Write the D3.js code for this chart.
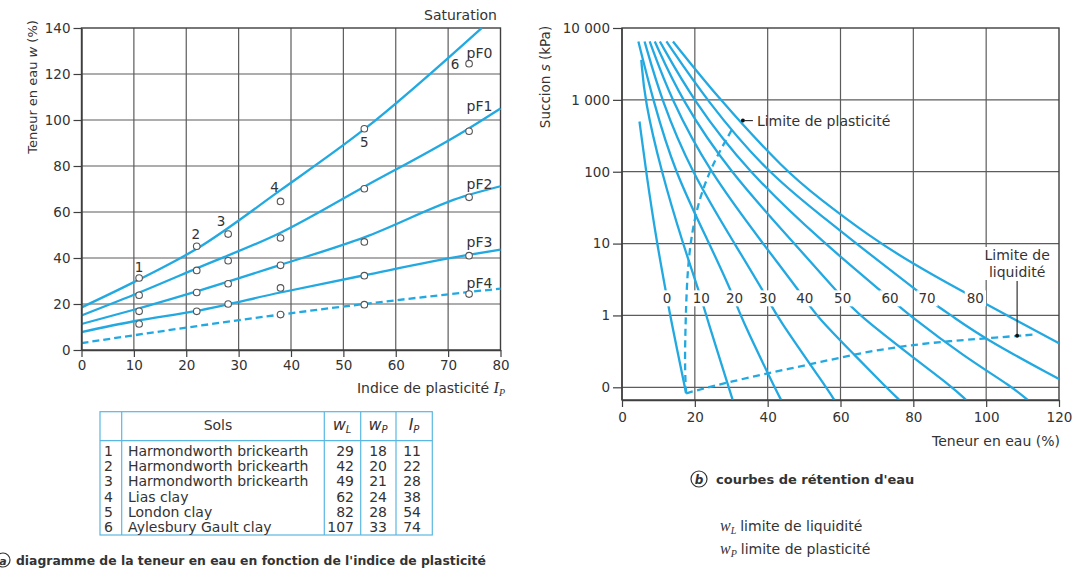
<!DOCTYPE html>
<html><head><meta charset="utf-8">
<script src="https://cdn.jsdelivr.net/npm/d3@7"></script>
<style>
body{margin:0;background:#fff;}
svg text{font-family:"DejaVu Sans",sans-serif;fill:#333;}
</style></head><body>
<svg id="c" width="1074" height="569"></svg>
<script>
// ---------- (a) water content against plasticity index ----------
const pfNames = ["pF0", "pF1", "pF2", "pF3", "pF4"];
const pF0 = [[0,18.5],[10,29.5],[22,44],[38,69.5],[54,96],[76.4,140]];
const pF1 = [[0,15],[10,24],[22,35.5],[38,51],[54,71],[73,95],[80,105]];
const pF2 = [[0,11.3],[10,17.5],[22,25.5],[38,37],[54,49],[73,66.8],[80,71.2]];
const pF3 = [[0,7.8],[10,12.5],[22,17],[38,25],[54,32.5],[73,41],[80,43.6]];
const pF4 = [[0,3],[38,15.4],[54,20],[80,26.7]];
const pfLabelAt = [[76,127],[76,104],[76,70],[76,45],[76,27]]; // Ip / w where each pF name sits

const soilNo = ["1", "2", "3", "4", "5", "6"];
const soilNames = ["Harmondworth brickearth", "Harmondworth brickearth", "Harmondworth brickearth",
                   "Lias clay", "London clay", "Aylesbury Gault clay"];
const soilWL = [29, 42, 49, 62, 82, 107];
const soilWP = [18, 20, 21, 24, 28, 33];
const soilIp = [11, 22, 28, 38, 54, 74];
// measured water contents for each soil (pF0 .. pF4)
const soilW = [
  [31.3, 23.8, 16.8, 11.3],
  [45.1, 34.6, 25, 16.8],
  [50.4, 38.8, 28.8, 20],
  [64.6, 48.7, 36.8, 27, 15.4],
  [96.2, 70.1, 47, 32.3, 19.7],
  [124.5, 95.1, 66.4, 41, 24.3]
];
const ipTicks = [0, 10, 20, 30, 40, 50, 60, 70, 80];
const wTicksA = [0, 20, 40, 60, 80, 100, 120, 140];

// ---------- (b) water retention curves ----------
const curveIp = [0, 10, 20, 30, 40, 50, 60, 70, 80];
const ret0  = [[4.8,500],[6.6,100],[9.6,10],[12.4,1.73],[13.2,1],[17.6,0.0826]];
const ret10 = [[5.3,3600],[6.2,1000],[10.8,100],[16.7,10],[21.8,1.73],[23.1,1],[29.3,0.1],[30.4,0.0666]];
const ret20 = [[4.5,6500],[8.5,1000],[14.4,100],[24,10],[30.9,1.73],[32.4,1],[41.9,0.1],[43.7,0.0666]];
const ret30 = [[6.2,6500],[10.8,1000],[19,100],[30.9,10],[40,1.73],[42.3,1],[56.1,0.1],[58.3,0.0666]];
const ret40 = [[7.6,6500],[13.5,1000],[24,100],[38.7,10],[50.2,1.73],[53.2,1],[64.3,0.267],[72.5,0.1],[76.2,0.0666]];
const ret50 = [[9,6500],[16.3,1000],[29.5,100],[47.4,10],[60.6,1.73],[65.2,1],[79.6,0.267],[90.8,0.1],[94.5,0.0666]];
const ret60 = [[10.4,6500],[19.4,1000],[34.5,100],[55.5,10],[73.6,1.73],[78.9,1],[94,0.267],[107.3,0.1],[111.4,0.0666]];
const ret70 = [[12.2,6500],[23.1,1000],[39.6,100],[55.7,22.4],[64.3,10],[80.8,2.26],[86.3,1.38],[90.4,1],[100,0.46],[120,0.13]];
const ret80 = [[14,6500],[26.8,1000],[45.1,100],[54.2,42.5],[68,12.6],[79.8,5.25],[93.6,2.14],[100,1.44],[120,0.41]];
const plasticLimit = [[17.6,0.0826],[17.2,0.2],[17.5,1],[18.1,6.6],[20.5,33],[24,100],[27,200],[30.6,420]];
const liquidLimit = [[17.6,0.0826],[22,0.095],[30,0.12],[40,0.157],[50,0.2],[60,0.26],[70,0.33],[80,0.39],[90,0.44],[100,0.48],[112.8,0.54]];
const plasticMark = [33.2, 515];
const liquidMark = [108.5, 0.52];
const curveLabelSuction = 1.73;
const suctionTicks = [10000, 1000, 100, 10, 1, 0.1];
const suctionTickLabels = ["10 000", "1 000", "100", "10", "1", "0"];
const waterTicks = [0, 20, 40, 60, 80, 100, 120];
const suctionFloor = 0.0666;

const svg = d3.select("#c");
const blue = "#22a9e1";
const gridC = "#5c5c5c";
const frameC = "#3f3f3f";
const fs = 13.5;

// ================= chart (a) =================
const xA = d3.scaleLinear().domain([0, 80]).range([81.5, 500.5]);
const yA = d3.scaleLinear().domain([0, 140]).range([350, 28]);
const gA = svg.append("g");

gA.append("g").selectAll("line").data(ipTicks.slice(1, -1)).join("line")
  .attr("x1", d => xA(d)).attr("x2", d => xA(d)).attr("y1", yA(0)).attr("y2", yA(140))
  .attr("stroke", gridC).attr("stroke-width", 1.2);
gA.append("g").selectAll("line").data(wTicksA.slice(1, -1)).join("line")
  .attr("x1", xA(0)).attr("x2", xA(80)).attr("y1", d => yA(d)).attr("y2", d => yA(d))
  .attr("stroke", gridC).attr("stroke-width", 1.2);
gA.append("rect").attr("x", xA(0)).attr("y", yA(140)).attr("width", xA(80) - xA(0)).attr("height", yA(0) - yA(140))
  .attr("fill", "none").attr("stroke", frameC).attr("stroke-width", 1.4);

const lineA = d3.line().x(d => xA(d[0])).y(d => yA(d[1])).curve(d3.curveMonotoneX);
[pF0, pF1, pF2, pF3, pF4].forEach((pts, i) => {
  gA.append("path").attr("d", lineA(pts)).attr("fill", "none").attr("stroke", blue)
    .attr("stroke-width", 2.3).attr("stroke-dasharray", i === 4 ? "7,4" : null);
});

pfNames.forEach((n, i) => {
  gA.append("text").attr("x", xA(pfLabelAt[i][0])).attr("y", yA(pfLabelAt[i][1]))
    .attr("text-anchor", "middle").attr("font-size", 14).text(n);
});

soilW.forEach((ws, i) => {
  gA.append("g").selectAll("circle").data(ws).join("circle")
    .attr("cx", xA(soilIp[i])).attr("cy", d => yA(d)).attr("r", 3.3)
    .attr("fill", "#fff").attr("stroke", "#555").attr("stroke-width", 1.1);
});
const soilLabelOffset = [[0, -11], [-1, -12], [-7, -13], [-6, -14], [0, 13], [-14, 0]];
soilNo.forEach((n, i) => {
  gA.append("text").attr("x", xA(soilIp[i]) + soilLabelOffset[i][0]).attr("y", yA(soilW[i][0]) + soilLabelOffset[i][1] + 5)
    .attr("text-anchor", "middle").attr("font-size", 13.5).text(n);
});

const axA = gA.append("g").attr("transform", `translate(0,${yA(0)})`)
  .call(d3.axisBottom(xA).tickValues(ipTicks).tickSize(7).tickPadding(3).tickSizeOuter(0));
const ayA = gA.append("g").attr("transform", `translate(${xA(0)},0)`)
  .call(d3.axisLeft(yA).tickValues(wTicksA).tickSize(8).tickPadding(3).tickSizeOuter(0));
[axA, ayA].forEach(a => {
  a.selectAll("path").attr("stroke", frameC).attr("stroke-width", 1.4);
  a.selectAll("line").attr("stroke", frameC).attr("stroke-width", 1.2);
  a.selectAll("text").attr("font-size", fs).attr("font-family", "DejaVu Sans").attr("fill", "#333");
});

gA.append("text").attr("x", 497).attr("y", 20).attr("text-anchor", "end").attr("font-size", 14).text("Saturation");
gA.append("text").attr("transform", "translate(37,87) rotate(-90)").attr("text-anchor", "middle").attr("font-size", 13)
  .call(t => { t.append("tspan").text("Teneur en eau ");
               t.append("tspan").attr("font-style", "italic").text("w");
               t.append("tspan").text(" (%)"); });
gA.append("text").attr("x", 505).attr("y", 393).attr("text-anchor", "end").attr("font-size", 14)
  .call(t => { t.append("tspan").text("Indice de plasticité ");
               t.append("tspan").attr("font-family", "Liberation Serif").attr("font-style", "italic").attr("font-size", 16).text("I");
               t.append("tspan").attr("font-family", "Liberation Serif").attr("font-style", "italic").attr("font-size", 10).attr("dy", 3).text("P"); });

// ---------- soil table ----------
const tb = svg.append("g");
const tX = [100, 121.7, 324.3, 360.7, 396, 432.3];
const tTop = 411.7, tHead = 440.7, tBot = 535;
const tblC = "#5ab7e2";
tb.append("rect").attr("x", tX[0]).attr("y", tTop).attr("width", tX[5] - tX[0]).attr("height", tBot - tTop)
  .attr("fill", "none").attr("stroke", tblC).attr("stroke-width", 1.2);
tb.selectAll("line.v").data(tX.slice(1, -1)).join("line").attr("class", "v")
  .attr("x1", d => d).attr("x2", d => d).attr("y1", tTop).attr("y2", tBot).attr("stroke", tblC).attr("stroke-width", 1.2);
tb.append("line").attr("x1", tX[0]).attr("x2", tX[5]).attr("y1", tHead).attr("y2", tHead).attr("stroke", tblC).attr("stroke-width", 1.2);
tb.append("text").attr("x", 218).attr("y", 430).attr("text-anchor", "middle").attr("font-size", 14).text("Sols");
function serifSym(x, sym, sub) {
  tb.append("text").attr("x", x).attr("y", 430).attr("text-anchor", "middle").attr("font-family", "Liberation Serif")
    .attr("font-style", "italic").attr("font-size", 16)
    .call(t => { t.append("tspan").text(sym);
                 t.append("tspan").attr("font-size", 10).attr("dy", 3).text(sub); });
}
serifSym(342, "w", "L");
serifSym(378, "w", "P");
serifSym(414, "I", "P");
const rowY = i => 451 + i * 15.2 + 5;
soilNames.forEach((n, i) => {
  tb.append("text").attr("x", 108.5).attr("y", rowY(i)).attr("text-anchor", "middle").attr("font-size", 14).text(soilNo[i]);
  tb.append("text").attr("x", 128).attr("y", rowY(i)).attr("font-size", 14).text(n);
  tb.append("text").attr("x", 354).attr("y", rowY(i)).attr("text-anchor", "end").attr("font-size", 14).text(soilWL[i]);
  tb.append("text").attr("x", 387).attr("y", rowY(i)).attr("text-anchor", "end").attr("font-size", 14).text(soilWP[i]);
  tb.append("text").attr("x", 421).attr("y", rowY(i)).attr("text-anchor", "end").attr("font-size", 14).text(soilIp[i]);
});

// caption (a)
svg.append("circle").attr("cx", 3).attr("cy", 560).attr("r", 7).attr("fill", "none").attr("stroke", "#333").attr("stroke-width", 1.2);
svg.append("text").attr("x", 3).attr("y", 564.5).attr("text-anchor", "middle").attr("font-size", 11)
  .attr("font-weight", "bold").attr("font-style", "italic").text("a");
svg.append("text").attr("x", 16).attr("y", 564.5).attr("font-size", 12.4).attr("font-weight", "bold").attr("fill", "#222")
  .text("diagramme de la teneur en eau en fonction de l'indice de plasticité");

// ================= chart (b) =================
const xB = d3.scaleLinear().domain([0, 120]).range([622, 1059]);
const yB = d3.scaleLog().domain([0.1, 10000]).range([387.3, 28]);
const gB = svg.append("g");

gB.append("g").selectAll("line").data(waterTicks.slice(1, -1)).join("line")
  .attr("x1", d => xB(d)).attr("x2", d => xB(d)).attr("y1", yB(suctionFloor)).attr("y2", yB(10000))
  .attr("stroke", gridC).attr("stroke-width", 1.2);
gB.append("g").selectAll("line").data(suctionTicks.slice(1)).join("line")
  .attr("x1", xB(0)).attr("x2", xB(120)).attr("y1", d => yB(d)).attr("y2", d => yB(d))
  .attr("stroke", gridC).attr("stroke-width", 1.2);
gB.append("rect").attr("x", xB(0)).attr("y", yB(10000)).attr("width", xB(120) - xB(0)).attr("height", yB(suctionFloor) - yB(10000))
  .attr("fill", "none").attr("stroke", frameC).attr("stroke-width", 1.4);

const lineB = d3.line().x(d => xB(d[0])).y(d => yB(d[1])).curve(d3.curveBasis);
const retCurves = [ret0, ret10, ret20, ret30, ret40, ret50, ret60, ret70, ret80];
retCurves.forEach(pts => {
  gB.append("path").attr("d", lineB(pts)).attr("fill", "none").attr("stroke", blue).attr("stroke-width", 2.3);
});
[plasticLimit, liquidLimit].forEach(pts => {
  gB.append("path").attr("d", lineB(pts)).attr("fill", "none").attr("stroke", blue)
    .attr("stroke-width", 2.3).attr("stroke-dasharray", "7,4.5");
});

function wAtSuction(pts, s) {
  const ls = Math.log10(s);
  for (let i = 0; i < pts.length - 1; i++) {
    const a = Math.log10(pts[i][1]), b = Math.log10(pts[i + 1][1]);
    if ((a - ls) * (b - ls) <= 0) {
      const t = (a - ls) / (a - b);
      return pts[i][0] + t * (pts[i + 1][0] - pts[i][0]);
    }
  }
  return pts[0][0];
}
function boxedText(g, x, y, str, size) {
  const t = g.append("text").attr("x", x).attr("y", y).attr("text-anchor", "middle")
    .attr("font-size", size).text(str);
  const bb = t.node().getBBox();
  g.insert("rect", () => t.node()).attr("x", bb.x - 2).attr("y", bb.y).attr("width", bb.width + 4)
    .attr("height", bb.height).attr("fill", "#fff");
  return t;
}
retCurves.forEach((pts, i) => {
  boxedText(gB, xB(wAtSuction(pts, curveLabelSuction)), yB(curveLabelSuction) + 5, String(curveIp[i]), 13.5);
});

// plastic limit annotation
gB.append("circle").attr("cx", xB(plasticMark[0])).attr("cy", yB(plasticMark[1])).attr("r", 2).attr("fill", "#111");
gB.append("line").attr("x1", xB(plasticMark[0]) + 2).attr("x2", xB(plasticMark[0]) + 10)
  .attr("y1", yB(plasticMark[1])).attr("y2", yB(plasticMark[1])).attr("stroke", "#333").attr("stroke-width", 1.2);
gB.append("text").attr("x", xB(plasticMark[0]) + 14).attr("y", yB(plasticMark[1]) + 5).attr("font-size", 14)
  .text("Limite de plasticité");

// liquid limit annotation
const llx = xB(liquidMark[0]);
const llg = gB.append("g");
const t1 = llg.append("text").attr("x", llx).attr("y", 260).attr("text-anchor", "middle").attr("font-size", 14).text("Limite de");
const t2 = llg.append("text").attr("x", llx).attr("y", 277).attr("text-anchor", "middle").attr("font-size", 14).text("liquidité");
const b1 = t1.node().getBBox(), b2 = t2.node().getBBox();
llg.insert("rect", () => t1.node()).attr("x", Math.min(b1.x, b2.x) - 2).attr("y", b1.y)
  .attr("width", Math.max(b1.width, b2.width) + 4).attr("height", b2.y + b2.height - b1.y).attr("fill", "#fff");
llg.append("line").attr("x1", llx).attr("x2", llx).attr("y1", b2.y + b2.height + 1).attr("y2", yB(liquidMark[1]))
  .attr("stroke", "#333").attr("stroke-width", 1.2);
llg.append("circle").attr("cx", llx).attr("cy", yB(liquidMark[1])).attr("r", 2).attr("fill", "#111");

// axes (b)
const axB = gB.append("g").attr("transform", `translate(0,${yB(suctionFloor)})`)
  .call(d3.axisBottom(xB).tickValues(waterTicks).tickSize(7).tickPadding(5).tickSizeOuter(0));
const ayB = gB.append("g").attr("transform", `translate(${xB(0)},0)`)
  .call(d3.axisLeft(yB).tickValues(suctionTicks).tickFormat((d, i) => suctionTickLabels[i])
        .tickSize(9).tickPadding(3).tickSizeOuter(0));
ayB.select("path").attr("d", `M-0,${yB(suctionFloor)}V${yB(10000)}`);
[axB, ayB].forEach(a => {
  a.selectAll("path").attr("stroke", frameC).attr("stroke-width", 1.4);
  a.selectAll("line").attr("stroke", frameC).attr("stroke-width", 1.2);
  a.selectAll("text").attr("font-size", fs).attr("font-family", "DejaVu Sans").attr("fill", "#333");
});

gB.append("text").attr("transform", "translate(550,77) rotate(-90)").attr("text-anchor", "middle").attr("font-size", 13.5)
  .call(t => { t.append("tspan").text("Succion ");
               t.append("tspan").attr("font-style", "italic").text("s");
               t.append("tspan").text(" (kPa)"); });
gB.append("text").attr("x", 1060).attr("y", 446).attr("text-anchor", "end").attr("font-size", 14).text("Teneur en eau (%)");

// caption (b) and notation
svg.append("circle").attr("cx", 699).attr("cy", 479).attr("r", 8).attr("fill", "none").attr("stroke", "#333").attr("stroke-width", 1.2);
svg.append("text").attr("x", 699).attr("y", 483.5).attr("text-anchor", "middle").attr("font-size", 12)
  .attr("font-weight", "bold").attr("font-style", "italic").text("b");
svg.append("text").attr("x", 716).attr("y", 484).attr("font-size", 13).attr("font-weight", "bold").attr("fill", "#222")
  .text("courbes de rétention d'eau");
function notation(y, sub, txt) {
  svg.append("text").attr("x", 720).attr("y", y).attr("font-size", 14)
    .call(t => { t.append("tspan").attr("font-family", "Liberation Serif").attr("font-style", "italic").attr("font-size", 16).text("w");
                 t.append("tspan").attr("font-family", "Liberation Serif").attr("font-style", "italic").attr("font-size", 10).attr("dy", 3).text(sub);
                 t.append("tspan").attr("dy", -3).attr("dx", 4).text(txt); });
}
notation(531, "L", "limite de liquidité");
notation(554, "P", "limite de plasticité");
</script>
</body></html>
